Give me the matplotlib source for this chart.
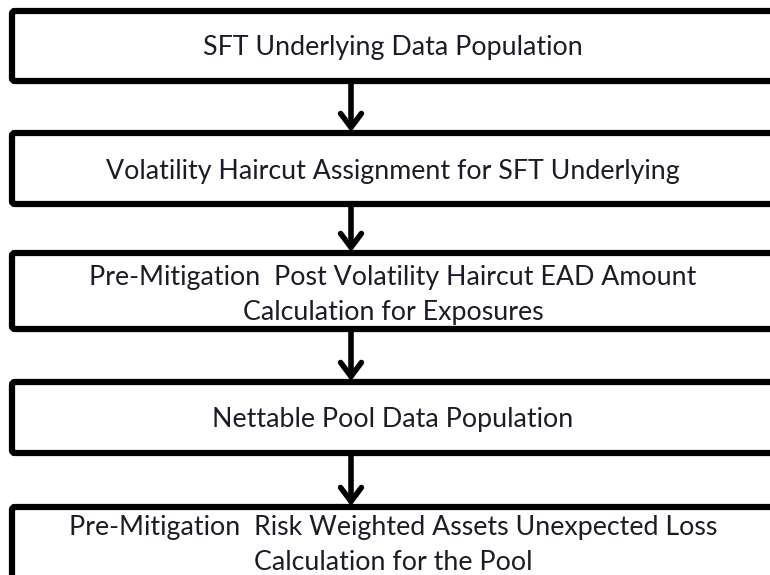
import matplotlib.pyplot as plt
from matplotlib.patches import FancyBboxPatch

# flowchart steps (top to bottom)
steps = [
    "SFT Underlying Data Population",
    "Volatility Haircut Assignment for SFT Underlying",
    "Pre-Mitigation  Post Volatility Haircut EAD Amount\nCalculation for Exposures",
    "Nettable Pool Data Population",
    "Pre-Mitigation  Risk Weighted Assets Unexpected Loss\nCalculation for the Pool",
]
# box top / bottom in pixels
tops = [11, 133, 253, 382, 507]
bottoms = [81, 204, 329, 453, 582]
# vertical centre of the text block in each box
text_y = [47, 172, 295, 419, 545]

W, H = 770, 575
fig = plt.figure(figsize=(W / 100, H / 100), dpi=100)
ax = fig.add_axes([0, 0, 1, 1])
ax.set_xlim(0, W)
ax.set_ylim(H, 0)
ax.axis("off")

left, right = 12, 776
text_x = 393
arrow_x = 351
line_gap = 35

for i, label in enumerate(steps):
    box = FancyBboxPatch((left, tops[i]), right - left, bottoms[i] - tops[i],
                         boxstyle="round,pad=0,rounding_size=3",
                         facecolor="white", edgecolor="black", linewidth=4.5,
                         clip_on=False)
    ax.add_patch(box)
    lines = label.split("\n")
    y0 = text_y[i] - line_gap * (len(lines) - 1) / 2
    for j, ln in enumerate(lines):
        ax.text(text_x, y0 + j * line_gap, ln, ha="center", va="center",
                fontsize=19.3, family="Lato", color="#1c1c28")

for i in range(len(steps) - 1):
    ax.annotate("", xy=(arrow_x, tops[i + 1] - 1), xytext=(arrow_x, bottoms[i] + 2),
                arrowprops=dict(arrowstyle="->,head_length=1.0,head_width=0.75",
                                lw=4, color="black", shrinkA=0, shrinkB=0))

fig.savefig("out.png", dpi=100)
